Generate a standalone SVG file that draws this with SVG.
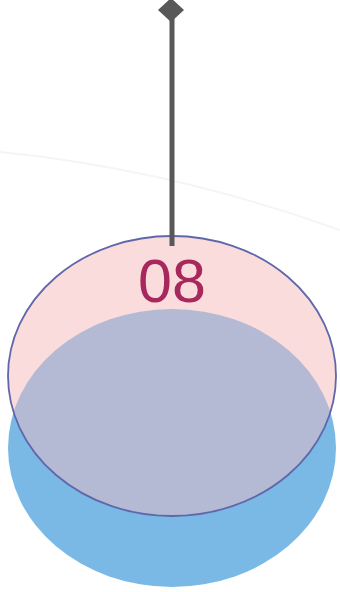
<svg xmlns="http://www.w3.org/2000/svg" width="340" height="592" viewBox="0 0 340 592">
<style>
.lbl{font-family:"Liberation Sans",Arial,sans-serif;font-size:61px;fill:#a6285c;text-anchor:middle}
</style>
<defs>
<clipPath id="pinkClip"><ellipse cx="172" cy="376" rx="164" ry="140"/></clipPath>
</defs>
<rect width="340" height="592" fill="#ffffff"/>
<path d="M0,152 Q170,169 340,230" fill="none" stroke="#f5f5f5" stroke-width="2"/>
<g id="blue">
<ellipse cx="172" cy="448" rx="164" ry="139" fill="#7ab9e6"/>
</g>
<g id="pink">
<ellipse cx="172" cy="376" rx="164" ry="140" fill="#fbdcdc"/>
<ellipse cx="172" cy="448" rx="164" ry="139" fill="#b4b9d4" clip-path="url(#pinkClip)"/>
<ellipse cx="172" cy="376" rx="164" ry="140" fill="none" stroke="#5f67aa" stroke-width="1.8"/>
<text class="lbl" x="172" y="302">08</text>
</g>
<g id="connectors">
<line x1="172" y1="10" x2="172" y2="246" stroke="#585858" stroke-width="5"/>
<polygon points="171,-2 184,10 171,22 158,10" fill="#585858"/>
</g>
</svg>
